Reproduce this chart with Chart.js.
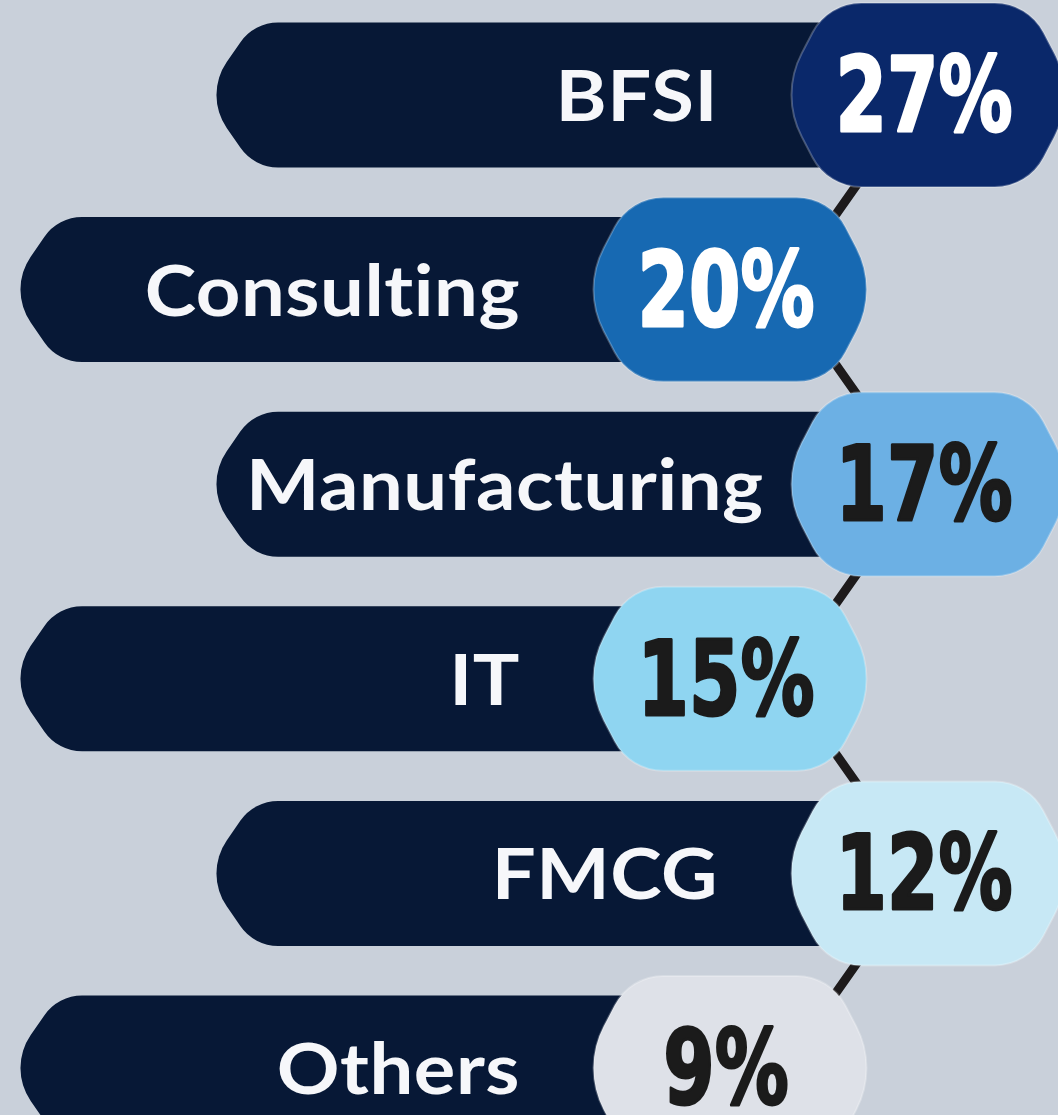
<!DOCTYPE html>
<html>
<head>
<meta charset="utf-8">
<script src="https://cdn.jsdelivr.net/npm/chart.js@4.4.1/dist/chart.umd.min.js"></script>
<style>
  html, body { margin: 0; padding: 0; background: #c9d0da; }
  #wrap { width: 1058px; height: 1115px; }
</style>
</head>
<body>
<div id="wrap"><canvas id="sectorChart" width="1058" height="1115"></canvas></div>
<script>
// data
const sectors = ["BFSI", "Consulting", "Manufacturing", "IT", "FMCG", "Others"];
const shares = [27, 20, 17, 15, 12, 9];

// styles
const badgeColors = ["#0a286a", "#1769b2", "#6cb0e4", "#8fd5f1", "#c7e8f5", "#dee1e8"];
const badgeTextColors = ["#ffffff", "#ffffff", "#1b1b1b", "#1b1b1b", "#1b1b1b", "#1b1b1b"];
const barColor = "#071836";

// layout, in px on a 0..1058 x scale: [even rows, odd rows]
const barStart = [204, 8];
const badgeCenter = [928, 730];
const lineX = [920, 783];
const badgeW = 296, badgeH = 184;

// draw a polygon with rounded corners
function roundedPoly(ctx, pts, radii) {
  const n = pts.length;
  ctx.beginPath();
  ctx.moveTo((pts[0][0] + pts[1][0]) / 2, (pts[0][1] + pts[1][1]) / 2);
  for (let i = 1; i <= n; i++) {
    const p = pts[i % n], q = pts[(i + 1) % n];
    ctx.arcTo(p[0], p[1], q[0], q[1], radii[i % n]);
  }
  ctx.closePath();
}

const shapePlugin = {
  id: "shapes",
  // bars with a chamfered, rounded left end
  beforeDatasetDraw(chart, args) {
    if (args.meta.type !== "bar") return;
    const ctx = chart.ctx;
    ctx.save();
    ctx.fillStyle = barColor;
    args.meta.data.forEach(function (bar) {
      const top = bar.y - bar.height / 2, bottom = bar.y + bar.height / 2;
      const k = 50;
      roundedPoly(ctx, [
        [bar.x, top], [bar.x, bottom], [bar.base + k, bottom],
        [bar.base, bar.y], [bar.base + k, top]
      ], [0, 0, 46, 58, 46]);
      ctx.fill();
    });
    ctx.restore();
    return false;
  },
  afterDatasetsDraw(chart) {
    const ctx = chart.ctx;
    const xs = chart.scales.x, ys = chart.scales.y;

    // percentage font, squeezed horizontally
    const pctFont = "bold 104px 'DejaVu Sans'";
    ctx.font = pctFont;
    const sx = 177 / ctx.measureText("00%").width;
    const labelSx = 1.11;

    sectors.forEach(function (name, i) {
      const col = i % 2;
      const cy = ys.getPixelForValue(i);
      const cx = xs.getPixelForValue(badgeCenter[col]);
      const left = cx - badgeW / 2, right = cx + badgeW / 2;
      const top = cy - badgeH / 2, bottom = cy + badgeH / 2;
      const k = 48;

      // label on the bar
      ctx.save();
      ctx.font = "bold 70px Lato";
      ctx.letterSpacing = "0.5px";
      ctx.fillStyle = "#f6f7fa";
      ctx.textBaseline = "alphabetic";
      ctx.textAlign = "left";
      const w = ctx.measureText(name).width * labelSx;
      let lx = left - 62 - w;
      const minX = xs.getPixelForValue(barStart[col]) + 42;
      if (lx < minX) lx = minX;
      ctx.translate(lx, cy + 26);
      ctx.scale(labelSx, 1);
      ctx.fillText(name, 0, 0);
      ctx.restore();

      // badge
      ctx.save();
      ctx.fillStyle = badgeColors[i];
      roundedPoly(ctx, [
        [left, cy], [left + k, top], [right - k, top],
        [right, cy], [right - k, bottom], [left + k, bottom]
      ], [90, 55, 55, 90, 55, 55]);
      ctx.fill();
      ctx.lineWidth = 2;
      ctx.strokeStyle = "rgba(255,255,255,0.25)";
      ctx.stroke();

      // percentage
      ctx.font = pctFont;
      ctx.fillStyle = badgeTextColors[i];
      ctx.strokeStyle = badgeTextColors[i];
      ctx.lineWidth = 3;
      ctx.lineJoin = "round";
      ctx.textAlign = "center";
      ctx.textBaseline = "alphabetic";
      ctx.translate(cx - 4, cy + 36);
      ctx.scale(sx, 1);
      ctx.fillText(shares[i] + "%", 0, 0);
      ctx.strokeText(shares[i] + "%", 0, 0);
      ctx.restore();
    });
  }
};

const ctx = document.getElementById("sectorChart").getContext("2d");
new Chart(ctx, {
  data: {
    labels: sectors,
    datasets: [
      {
        type: "bar",
        label: "Share",
        data: sectors.map(function (s, i) { return [barStart[i % 2], badgeCenter[i % 2]]; }),
        backgroundColor: barColor,
        barThickness: 145,
        clip: false,
        order: 2
      },
      {
        type: "line",
        indexAxis: "y",
        data: sectors.map(function (s, i) { return lineX[i % 2]; }),
        borderColor: "#1d1a1b",
        borderWidth: 9,
        pointRadius: 0,
        tension: 0,
        clip: false,
        order: 1
      }
    ]
  },
  options: {
    indexAxis: "y",
    responsive: false,
    animation: false,
    layout: { padding: { top: 95, bottom: 47, left: 0, right: 0 } },
    scales: {
      x: { type: "linear", min: 0, max: 1058, display: false },
      y: { type: "category", offset: false, display: false }
    },
    plugins: {
      legend: { display: false },
      tooltip: { enabled: false }
    }
  },
  plugins: [shapePlugin]
});
</script>
</body>
</html>
